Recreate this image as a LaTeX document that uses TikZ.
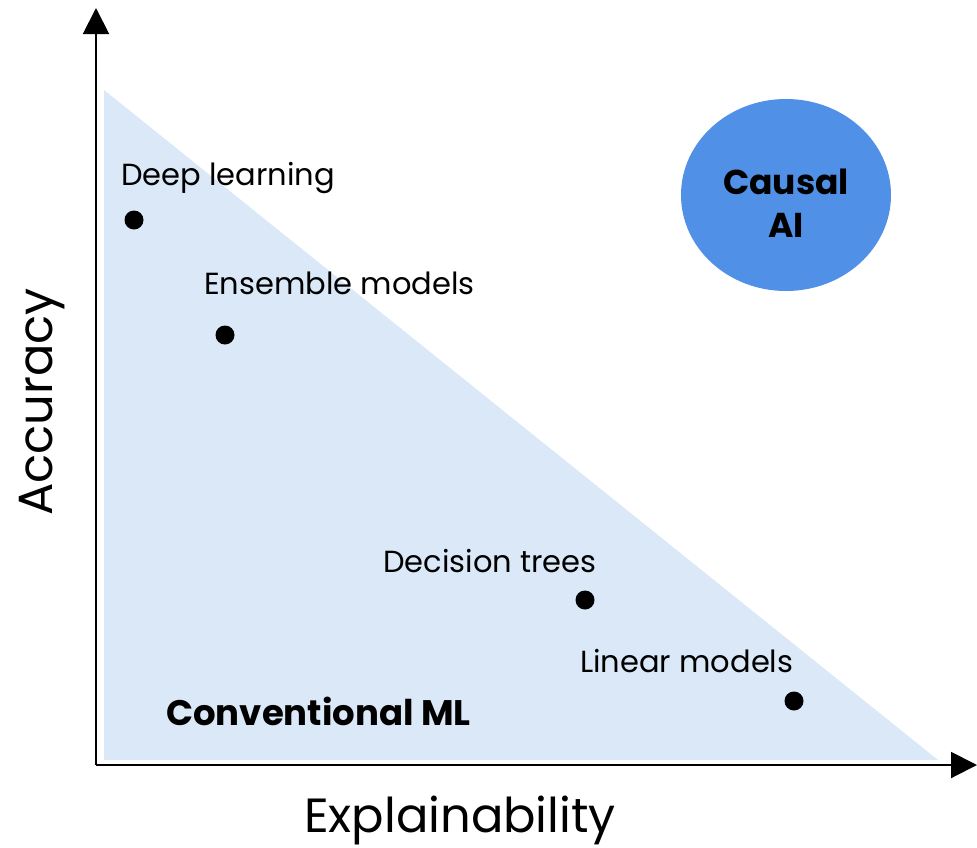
\documentclass[tikz,border=0pt]{standalone}
\usepackage{fontspec}
\setmainfont{Poppins}
\usepackage{xcolor}
\usetikzlibrary{positioning, arrows.meta, shapes.geometric}
\definecolor{mlfill}{HTML}{DAE8F8}
\definecolor{causalblue}{HTML}{5090E6}

\begin{document}
\begin{tikzpicture}[
    x=1pt, y=-1pt,
    axis/.style={line width=2pt, -{Triangle[length=26pt, width=26pt]}},
    model/.style={circle, fill=black, inner sep=0pt, minimum size=19pt},
    tag/.style={anchor=west, inner sep=0pt, font=\fontsize{30.5}{34}\selectfont},
    title/.style={inner sep=0pt, font=\fontsize{48}{52}\selectfont},
    causal/.style={ellipse, fill=causalblue, minimum width=210pt, minimum height=192pt},
    causaltext/.style={align=center, yshift=-8pt, font=\fontsize{34.5}{43}\selectfont\bfseries}
]
\useasboundingbox (0,0) rectangle (977,847);

% region of conventional ML
\coordinate (tl) at (104,90);
\coordinate (bl) at (104,760);
\coordinate (br) at (938,760);
\fill[mlfill] (tl) -- (bl) -- (br) -- cycle;

% axes
\coordinate (origin) at (96,765);
\coordinate (ytip) at (96,8);
\coordinate (xtip) at (977,765);
\draw[axis] (origin) -- (ytip);
\draw[axis] (origin) -- (xtip);

\node[title, rotate=90] (acc) at (42,402) {Accuracy};
\node[title] (expl) at (460,820) {Explainability};

% models
\node[model] (deep) at (134,220) {};
\node[model] (ens) at (225,335) {};
\node[model] (dec) at (585,600) {};
\node[model] (lin) at (794,701) {};
\node[tag] (deep_l) at (121,178) {Deep learning};
\node[tag] (ens_l) at (204,283) {Ensemble models};
\node[tag] (dec_l) at (383,561) {Decision trees};
\node[tag] (lin_l) at (580,661) {Linear models};
\node[tag, font=\fontsize{35.5}{38}\selectfont\bfseries] (conv) at (166,711) {Conventional ML};

\node[causal, label={[causaltext]center:Causal\\AI}] (cai) at (786,195) {};
\end{tikzpicture}
\end{document}
